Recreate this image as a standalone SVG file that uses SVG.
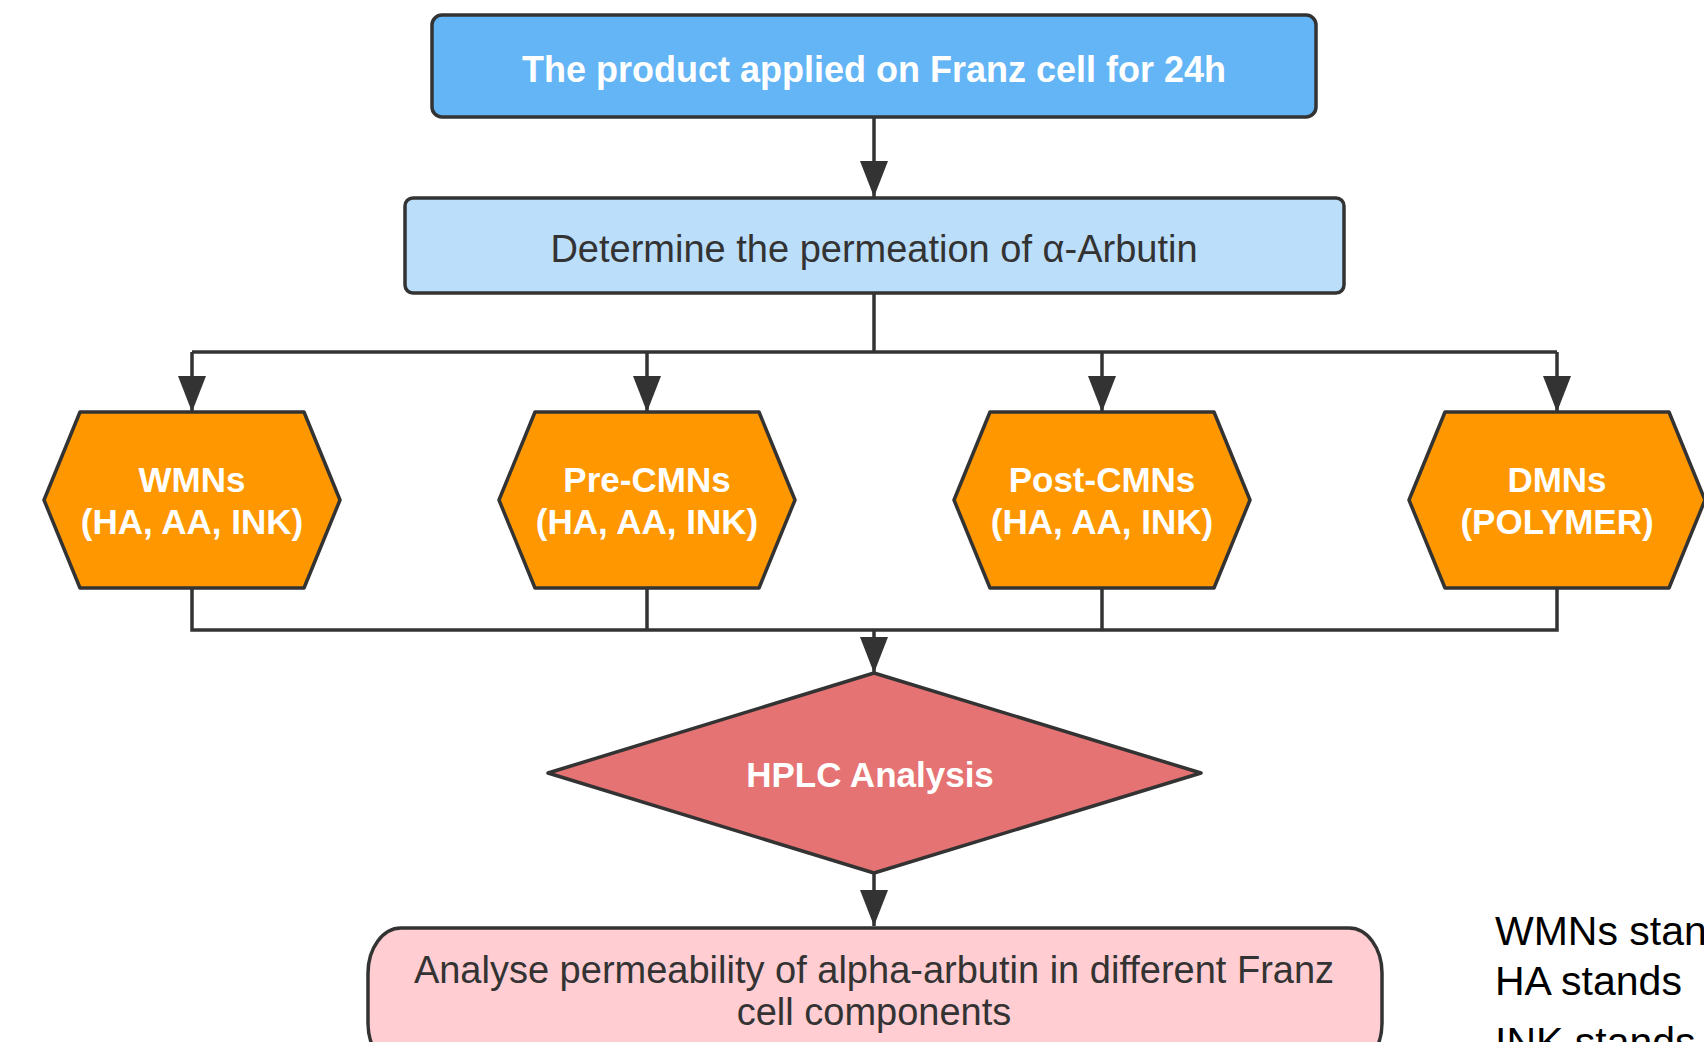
<svg xmlns="http://www.w3.org/2000/svg" width="1704" height="1042" viewBox="0 0 1704 1042">
<style>
.node{stroke:#333;stroke-width:3.5;stroke-linejoin:round}
.conn{fill:none;stroke:#333;stroke-width:3.5}
.lt{font-family:"Liberation Sans",Arial,sans-serif;font-size:38px;text-anchor:middle}
.w{fill:#fff;font-weight:bold;font-size:35px}
.big{font-size:36px}
.d{fill:#333}
.hex{fill:#FF9800}
.legend{font-family:"Liberation Sans",Arial,sans-serif;font-size:41px;fill:#000}
</style>
<defs>
<marker id="arr" markerUnits="userSpaceOnUse" viewBox="0 0 36 28" markerWidth="36" markerHeight="28" refX="36" refY="14" orient="auto">
<path d="M0,0 L36,14 L0,28 Z" fill="#333"/>
</marker>
</defs>
<rect width="1704" height="1042" fill="#fff"/>

<g id="connectors">
<path class="conn" d="M874,118 V197" marker-end="url(#arr)"/>
<path class="conn" d="M874,293 V352"/>
<path class="conn" d="M192,352 H1557"/>
<path class="conn" d="M192,352 V412" marker-end="url(#arr)"/>
<path class="conn" d="M647,352 V412" marker-end="url(#arr)"/>
<path class="conn" d="M1102,352 V412" marker-end="url(#arr)"/>
<path class="conn" d="M1557,352 V412" marker-end="url(#arr)"/>
<path class="conn" d="M192,588 V630 H1557 V588"/>
<path class="conn" d="M647,588 V630"/>
<path class="conn" d="M1102,588 V630"/>
<path class="conn" d="M874,630 V673" marker-end="url(#arr)"/>
<path class="conn" d="M874,873 V926" marker-end="url(#arr)"/>
</g>

<g id="n-top">
<rect class="node" x="432" y="15" width="884" height="102" rx="10" fill="#64B5F6"/>
<text class="lt w big" x="874" y="82">The product applied on Franz cell for 24h</text>
</g>

<g id="n-determine">
<rect class="node" x="405" y="198" width="939" height="95" rx="8" fill="#BBDEFB"/>
<text class="lt d" x="874" y="262">Determine the permeation of α-Arbutin</text>
</g>

<g id="n-wmns">
<polygon class="node hex" points="44,500 80,412 304,412 340,500 304,588 80,588"/>
<text class="lt w" x="192" y="492">WMNs</text>
<text class="lt w" x="192" y="534">(HA, AA, INK)</text>
</g>

<g id="n-pre">
<polygon class="node hex" points="499,500 535,412 759,412 795,500 759,588 535,588"/>
<text class="lt w" x="647" y="492">Pre-CMNs</text>
<text class="lt w" x="647" y="534">(HA, AA, INK)</text>
</g>

<g id="n-post">
<polygon class="node hex" points="954,500 990,412 1214,412 1250,500 1214,588 990,588"/>
<text class="lt w" x="1102" y="492">Post-CMNs</text>
<text class="lt w" x="1102" y="534">(HA, AA, INK)</text>
</g>

<g id="n-dmns">
<polygon class="node hex" points="1409,500 1445,412 1669,412 1705,500 1669,588 1445,588"/>
<text class="lt w" x="1557" y="492">DMNs</text>
<text class="lt w" x="1557" y="534">(POLYMER)</text>
</g>

<g id="n-hplc">
<polygon class="node" points="874,673 1201,773 874,873 548,773" fill="#E57373"/>
<text class="lt w" x="870" y="787">HPLC Analysis</text>
</g>

<g id="n-analyse">
<rect class="node" x="368" y="928" width="1014" height="140" rx="33" ry="45" fill="#FFCDD2"/>
<text class="lt d" x="874" y="983">Analyse permeability of alpha-arbutin in different Franz</text>
<text class="lt d" x="874" y="1025">cell components</text>
</g>

<g id="legend">
<text class="legend" x="1495" y="945">WMNs stands</text>
<text class="legend" x="1495" y="995">HA stands</text>
<text class="legend" x="1495" y="1056">INK stands</text>
</g>
</svg>
